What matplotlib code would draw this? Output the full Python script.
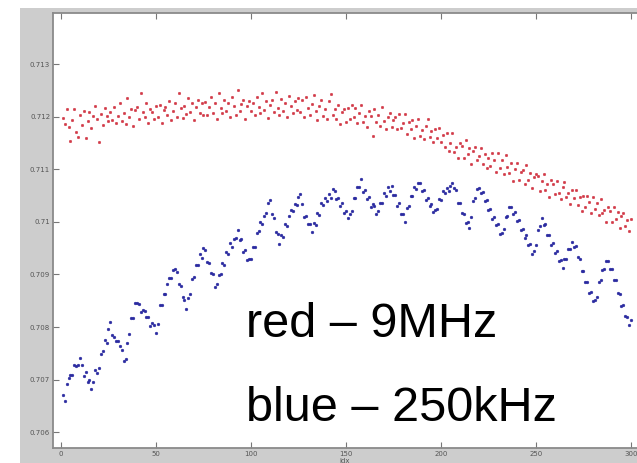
import numpy as np
import matplotlib
matplotlib.use("Agg")
import matplotlib.pyplot as plt
from matplotlib.patches import Rectangle

# Signal level per sample for the two clock settings
red_9mhz = [
    0.71197, 0.71186, 0.71215, 0.71180, 0.71154, 0.71193, 0.71215, 0.71170, 0.71162, 0.71204,
    0.71184, 0.71211, 0.71160, 0.71191, 0.71209, 0.71179, 0.71201, 0.71220, 0.71195, 0.71152,
    0.71205, 0.71184, 0.71217, 0.71201, 0.71192, 0.71209, 0.71194, 0.71218, 0.71188, 0.71202,
    0.71225, 0.71192, 0.71206, 0.71186, 0.71236, 0.71199, 0.71215, 0.71183, 0.71212, 0.71219,
    0.71195, 0.71245, 0.71209, 0.71199, 0.71225, 0.71188, 0.71215, 0.71208, 0.71195, 0.71221,
    0.71199, 0.71222, 0.71187, 0.71212, 0.71219, 0.71204, 0.71230, 0.71193, 0.71211, 0.71226,
    0.71199, 0.71245, 0.71216, 0.71198, 0.71221, 0.71205, 0.71236, 0.71209, 0.71225, 0.71193,
    0.71219, 0.71232, 0.71207, 0.71225, 0.71204, 0.71228, 0.71203, 0.71218, 0.71238, 0.71207,
    0.71225, 0.71196, 0.71244, 0.71216, 0.71206, 0.71232, 0.71211, 0.71225, 0.71200, 0.71237,
    0.71221, 0.71203, 0.71250, 0.71211, 0.71224, 0.71232, 0.71196, 0.71221, 0.71229, 0.71210,
    0.71225, 0.71203, 0.71237, 0.71219, 0.71207, 0.71245, 0.71213, 0.71229, 0.71197, 0.71223,
    0.71232, 0.71209, 0.71247, 0.71217, 0.71204, 0.71234, 0.71211, 0.71226, 0.71200, 0.71240,
    0.71221, 0.71207, 0.71230, 0.71213, 0.71235, 0.71209, 0.71232, 0.71199, 0.71238, 0.71217,
    0.71203, 0.71224, 0.71242, 0.71210, 0.71193, 0.71221, 0.71232, 0.71202, 0.71215, 0.71195,
    0.71229, 0.71243, 0.71204, 0.71215, 0.71195, 0.71222, 0.71186, 0.71208, 0.71215, 0.71189,
    0.71216, 0.71196, 0.71223, 0.71199, 0.71217, 0.71187, 0.71206, 0.71222, 0.71189, 0.71201,
    0.71180, 0.71211, 0.71202, 0.71164, 0.71214, 0.71189, 0.71204, 0.71182, 0.71218, 0.71191,
    0.71177, 0.71199, 0.71207, 0.71181, 0.71194, 0.71199, 0.71176, 0.71205, 0.71179, 0.71187,
    0.71205, 0.71167, 0.71189, 0.71177, 0.71193, 0.71160, 0.71182, 0.71195, 0.71164, 0.71174,
    0.71158, 0.71183, 0.71195, 0.71161, 0.71172, 0.71151, 0.71176, 0.71160, 0.71179, 0.71151,
    0.71165, 0.71143, 0.71168, 0.71135, 0.71150, 0.71169, 0.71132, 0.71143, 0.71122, 0.71150,
    0.71145, 0.71122, 0.71156, 0.71129, 0.71141, 0.71110, 0.71135, 0.71143, 0.71118, 0.71126,
    0.71141, 0.71110, 0.71129, 0.71103, 0.71122, 0.71106, 0.71130, 0.71117, 0.71094, 0.71130,
    0.71103, 0.71117, 0.71091, 0.71127, 0.71104, 0.71092, 0.71112, 0.71077, 0.71101, 0.71112,
    0.71080, 0.71094, 0.71098, 0.71072, 0.71108, 0.71080, 0.71093, 0.71064, 0.71086, 0.71091,
    0.71087, 0.71059, 0.71078, 0.71091, 0.71061, 0.71071, 0.71048, 0.71079, 0.71071, 0.71052,
    0.71078, 0.71055, 0.71043, 0.71066, 0.71076, 0.71047, 0.71055, 0.71034, 0.71060, 0.71045,
    0.71061, 0.71032, 0.71048, 0.71021, 0.71049, 0.71029, 0.71049, 0.71037, 0.71016, 0.71048,
    0.71025, 0.71036, 0.71013, 0.71043, 0.71016, 0.71022, 0.71000, 0.71029, 0.71020, 0.70999,
    0.71028, 0.71006, 0.71018, 0.70989, 0.71011, 0.71017, 0.70992, 0.71003, 0.70982, 0.71005,
]

blue_250khz = [
    0.70670, 0.70660, 0.70692, 0.70703, 0.70709, 0.70709, 0.70727, 0.70725, 0.70728, 0.70742,
    0.70728, 0.70707, 0.70714, 0.70696, 0.70699, 0.70682,
    0.70695, 0.70719, 0.70713, 0.70722, 0.70748, 0.70755, 0.70775, 0.70769, 0.70797, 0.70809,
    0.70785, 0.70781, 0.70773, 0.70774, 0.70764, 0.70756, 0.70736, 0.70740,
    0.70769, 0.70786, 0.70817, 0.70817, 0.70845, 0.70846,
    0.70844, 0.70828, 0.70832, 0.70830, 0.70820, 0.70819, 0.70801, 0.70808, 0.70804, 0.70788,
    0.70805, 0.70842, 0.70842, 0.70863, 0.70862, 0.70882, 0.70894, 0.70893, 0.70909, 0.70910,
    0.70905, 0.70882, 0.70878, 0.70857, 0.70851, 0.70834,
    0.70856, 0.70863, 0.70891, 0.70895, 0.70918, 0.70918, 0.70938, 0.70932, 0.70951, 0.70946,
    0.70924, 0.70922, 0.70902, 0.70900, 0.70877, 0.70882,
    0.70898, 0.70900, 0.70921, 0.70917, 0.70943, 0.70938, 0.70959, 0.70952, 0.70968, 0.70970, 0.70985,
    0.70966, 0.70968, 0.70943, 0.70947, 0.70927, 0.70930,
    0.70930, 0.70952, 0.70952, 0.70978, 0.70982, 0.70999, 0.70996, 0.71012, 0.71016, 0.71035, 0.71041,
    0.71014, 0.71007, 0.70981, 0.70977, 0.70957,
    0.70974, 0.70971, 0.70995, 0.70993, 0.71011, 0.71023, 0.71020, 0.71034, 0.71032, 0.71047, 0.71053,
    0.71034, 0.71009, 0.71012, 0.70995, 0.70995, 0.70980,
    0.70997, 0.70994, 0.71016, 0.71013, 0.71036, 0.71032, 0.71046, 0.71040, 0.71053, 0.71046, 0.71062, 0.71059,
    0.71043, 0.71046, 0.71031, 0.71035, 0.71016, 0.71021, 0.71007, 0.71014,
    0.71021, 0.71045, 0.71046, 0.71066, 0.71067, 0.71081,
    0.71057, 0.71061, 0.71044, 0.71047, 0.71029, 0.71033, 0.71031, 0.71015, 0.71021,
    0.71035, 0.71036, 0.71054, 0.71050, 0.71066, 0.71059, 0.71068,
    0.71051, 0.71051, 0.71030, 0.71035, 0.71015, 0.71015, 0.71000,
    0.71026, 0.71030, 0.71049, 0.71049, 0.71067, 0.71063, 0.71074, 0.71073,
    0.71058, 0.71061, 0.71042, 0.71045, 0.71030, 0.71034, 0.71019, 0.71023,
    0.71025, 0.71043, 0.71041, 0.71058, 0.71055, 0.71064, 0.71058, 0.71069, 0.71073, 0.71065,
    0.71060, 0.71035, 0.71036, 0.71016, 0.71015, 0.70997, 0.70999, 0.70988,
    0.71010, 0.71039, 0.71046, 0.71063, 0.71064,
    0.71055, 0.71057, 0.71039, 0.71041, 0.71023, 0.71024, 0.71006, 0.71010, 0.70994, 0.70996, 0.70977, 0.70979,
    0.70986, 0.71010, 0.71012, 0.71028, 0.71029,
    0.71015, 0.71018, 0.71001, 0.71003, 0.70984, 0.70986, 0.70970, 0.70974, 0.70956, 0.70957, 0.70939, 0.70944,
    0.70956, 0.70985, 0.70992, 0.71008,
    0.70994, 0.70996, 0.70975, 0.70975, 0.70956, 0.70959, 0.70940, 0.70944, 0.70926, 0.70927, 0.70912,
    0.70930, 0.70930, 0.70949, 0.70948, 0.70962, 0.70953,
    0.70954, 0.70934, 0.70930, 0.70907, 0.70906, 0.70886, 0.70885, 0.70864, 0.70866, 0.70850, 0.70851,
    0.70858, 0.70885, 0.70890, 0.70909, 0.70911, 0.70925, 0.70926,
    0.70911, 0.70911, 0.70890, 0.70890, 0.70864, 0.70862, 0.70840, 0.70841, 0.70821, 0.70820, 0.70804, 0.70813,
]

x_ticks = [0, 50, 100, 150, 200, 250, 300]
y_ticks = [0.706, 0.707, 0.708, 0.709, 0.71, 0.711, 0.712, 0.713]
label_red = "red \u2013 9MHz"
label_blue = "blue \u2013 250kHz"

W, H = 637, 463
fig = plt.figure(figsize=(W / 100, H / 100), dpi=100)
fig.patch.set_facecolor("white")

# grey window backdrop around the plotting area
fig.add_artist(Rectangle((20 / W, 0), 1, (H - 8) / H, transform=fig.transFigure,
                         facecolor="#cdcdcd", edgecolor="none", zorder=0))

ax = fig.add_axes([53 / W, 15 / H, 616 / W, 435 / H])
ax.set_facecolor("white")

xr = np.arange(1, len(red_9mhz) + 1)
xb = np.arange(1, len(blue_250khz) + 1)
ax.plot(xr, red_9mhz, linestyle="none", marker="o", markersize=1.9,
        markerfacecolor="#d23a48", markeredgecolor="#d23a48", markeredgewidth=0.3)
ax.plot(xb, blue_250khz, linestyle="none", marker="o", markersize=2.0,
        markerfacecolor="#2a2aa0", markeredgecolor="#2a2aa0", markeredgewidth=0.3)

ax.set_xlim(-4.2, 320)
ax.set_ylim(0.70570, 0.71397)
ax.set_xticks(x_ticks)
ax.set_xticklabels([str(t) for t in x_ticks])
ax.set_yticks(y_ticks)
ax.set_yticklabels([f"{t:g}" for t in y_ticks])
ax.tick_params(direction="in", length=4, width=0.8, color="#777777",
               labelsize=5, labelcolor="#555555", top=True, right=True, pad=2)
for s in ax.spines.values():
    s.set_color("#8a8a8a")
    s.set_linewidth(1.3)

fig.text(345 / W, 1 - 461 / H, "idx", fontsize=5, color="#555555",
         ha="center", va="center")

fig.text(246 / W, 1 - 337 / H, label_red, fontsize=35, family="Liberation Sans",
         color="black", ha="left", va="baseline")
fig.text(246 / W, 1 - 421 / H, label_blue, fontsize=35, family="Liberation Sans",
         color="black", ha="left", va="baseline")

fig.savefig("out.png", dpi=100, facecolor=fig.get_facecolor())
